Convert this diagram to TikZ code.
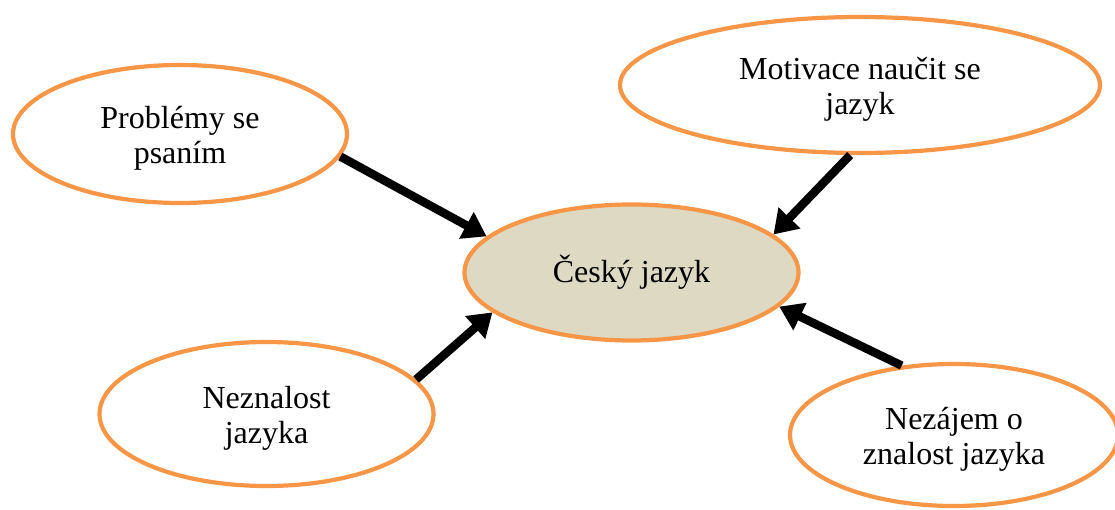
\documentclass[tikz,border=0pt]{standalone}
\usepackage{fontspec}
\setmainfont{Liberation Serif}
\usetikzlibrary{shapes.geometric,arrows.meta}
\definecolor{ringorange}{HTML}{F79646}
\definecolor{coretan}{HTML}{DDD9C3}
% tall strut opening the first line, so two-line labels sit a little lower
\newcommand{\topstrut}{\rule{0pt}{31pt}}
\begin{document}
\begin{tikzpicture}[x=1pt,y=-1pt,
  bubble/.style={ellipse, draw=ringorange, line width=4.2pt, fill=white,
    inner sep=0pt, align=center, font=\fontsize{32}{35}\selectfont},
  push/.style={line width=8.5pt, -{Triangle[length=23pt,width=29pt]}}]
  \useasboundingbox (0,0) rectangle (1115,510);
  \clip (0,0) rectangle (1115,510);

  % central topic
  \node[bubble, fill=coretan, minimum width=334pt, minimum height=136pt]
    (core) at (631.5,272.5) {Český jazyk};

  % influencing factors
  \node[bubble, minimum width=334pt, minimum height=138pt]
    (psani) at (180,134) {\topstrut Problémy se\\psaním};
  \node[bubble, minimum width=480pt, minimum height=136pt]
    (motiv) at (860,85) {\topstrut Motivace naučit se\\jazyk};
  \node[bubble, minimum width=334pt, minimum height=144pt]
    (neznal) at (266.5,414) {\topstrut Neznalost\\jazyka};
  \node[bubble, minimum width=328pt, minimum height=142pt]
    (nezajem) at (954,435) {\topstrut Nezájem o\\znalost jazyka};

  % arrows pointing at the central topic
  \draw[push] (psani.-8) -- (core.166);
  \draw[push] (motiv.262) -- (core.15);
  \draw[push] (neznal.13) -- (core.196);
  \draw[push] (nezajem.127) -- (core.-13);
\end{tikzpicture}
\end{document}
